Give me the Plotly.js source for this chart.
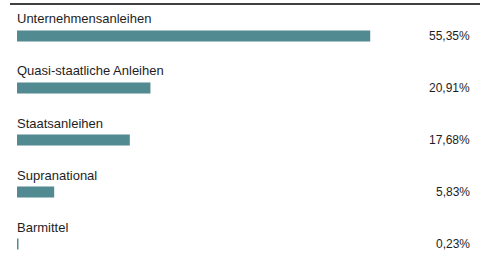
<!DOCTYPE html>
<html><head><meta charset="utf-8">
<script src="https://cdn.plot.ly/plotly-3.0.1.min.js"></script>
<style>html,body{margin:0;padding:0;background:#fff;}#c{width:488px;height:262px;}</style>
</head><body><div id="c"></div>
<script>
var categories = ["Unternehmensanleihen", "Quasi-staatliche Anleihen", "Staatsanleihen", "Supranational", "Barmittel"];
var values = [55.35, 20.91, 17.68, 5.83, 0.23];
var valueLabels = ["55,35%", "20,91%", "17,68%", "5,83%", "0,23%"];

var barColor = "#518b91";
var textColor = "#1e1e1e";
var fontFam = "Liberation Sans, Arial, sans-serif";

var annotations = [];
categories.forEach(function(c, i){
  annotations.push({x:0, y:c, xref:'x', yref:'y', text:c, showarrow:false, xanchor:'left', yanchor:'middle', yshift:17, xshift:-2,
    font:{family:fontFam, size:13, color:textColor}});
  annotations.push({x:1, y:c, xref:'paper', yref:'y', text:valueLabels[i], showarrow:false, xanchor:'right', yanchor:'middle', yshift:0,
    font:{family:fontFam, size:12, color:textColor}});
});

var data = [{
  type:'bar', orientation:'h', x:values, y:categories,
  width:0.21, marker:{color:barColor, line:{width:0}}, hoverinfo:'none'
}];

var layout = {
  width:488, height:262,
  margin:{l:17, r:16, t:0, b:0, pad:0},
  paper_bgcolor:'#fff', plot_bgcolor:'#fff',
  showlegend:false,
  xaxis:{range:[0, 71.3], showgrid:false, zeroline:false, showticklabels:false, showline:false, fixedrange:true},
  yaxis:{type:'category', range:[4.346, -0.692], showgrid:false, zeroline:false, showticklabels:false, showline:false, fixedrange:true},
  annotations:annotations,
  shapes:[{type:'line', xref:'paper', yref:'paper', x0:(10-17)/455, x1:(480-17)/455, y0:(262-4)/262, y1:(262-4)/262,
    line:{color:'#000', width:1.5}}]
};

Plotly.newPlot('c', data, layout, {displayModeBar:false, staticPlot:true});
</script></body></html>
